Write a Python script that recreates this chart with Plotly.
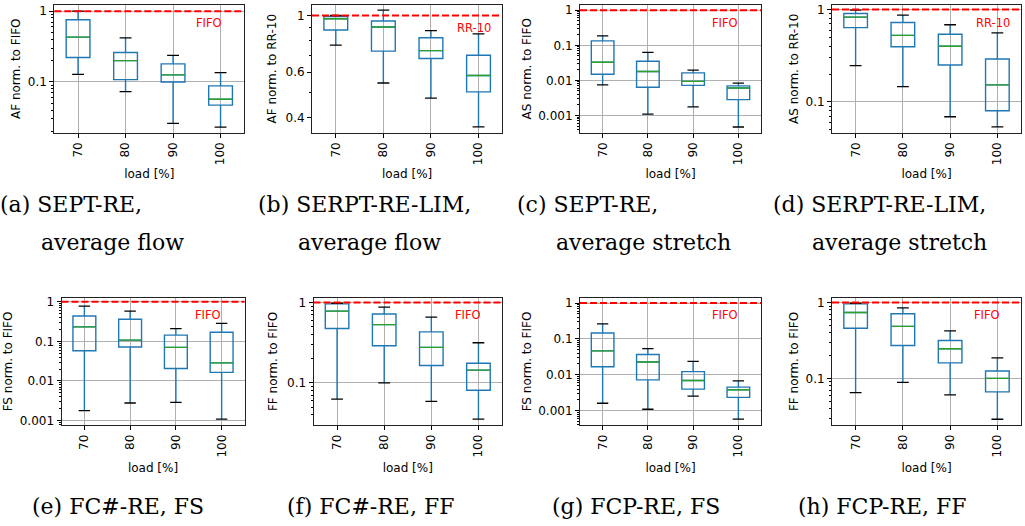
import plotly.graph_objects as go

loads = ["70", "80", "90", "100"]
positions = [1, 2, 3, 4]
ref_value = [1.0]

# (a) SEPT-RE, average flow
a_low = [0.128, 0.073, 0.026, 0.023]
a_q1 = [0.222, 0.108, 0.100, 0.047]
a_med = [0.43, 0.20, 0.126, 0.057]
a_q3 = [0.757, 0.261, 0.18, 0.088]
a_high = [1.0, 0.42, 0.237, 0.135]
# (b) SERPT-RE-LIM, average flow
b_low = [0.766, 0.545, 0.476, 0.367]
b_q1 = [0.878, 0.726, 0.679, 0.503]
b_med = [0.971, 0.902, 0.729, 0.583]
b_q3 = [0.99, 0.951, 0.818, 0.699]
b_high = [1.0, 1.049, 0.873, 0.848]
# (c) SEPT-RE, average stretch
c_low = [0.0075, 0.0011, 0.00177, 0.00047]
c_q1 = [0.015, 0.00635, 0.0072, 0.00284]
c_med = [0.0328, 0.0179, 0.0094, 0.0061]
c_q3 = [0.134, 0.035, 0.0164, 0.0070]
c_high = [0.185, 0.063, 0.0195, 0.0084]
# (d) SERPT-RE-LIM, average stretch
d_low = [0.247, 0.146, 0.069, 0.0535]
d_q1 = [0.637, 0.395, 0.251, 0.080]
d_med = [0.829, 0.526, 0.401, 0.153]
d_q3 = [0.906, 0.726, 0.54, 0.291]
d_high = [0.985, 0.871, 0.685, 0.558]
# (e) FC#-RE, FS
e_low = [0.00178, 0.00277, 0.00287, 0.00108]
e_q1 = [0.058, 0.072, 0.0207, 0.0165]
e_med = [0.233, 0.108, 0.0708, 0.0287]
e_q3 = [0.438, 0.362, 0.144, 0.171]
e_high = [0.78, 0.584, 0.211, 0.287]
# (f) FC#-RE, FF
f_low = [0.063, 0.1, 0.059, 0.0354]
f_q1 = [0.475, 0.29, 0.165, 0.081]
f_med = [0.782, 0.531, 0.277, 0.1445]
f_q3 = [0.963, 0.719, 0.432, 0.176]
f_high = [0.98, 0.877, 0.66, 0.316]
# (g) FCP-RE, FS
g_low = [0.0016, 0.00109, 0.00254, 0.00058]
g_q1 = [0.0168, 0.00718, 0.00397, 0.00234]
g_med = [0.0464, 0.0226, 0.0069, 0.0038]
g_q3 = [0.146, 0.0367, 0.0122, 0.00451]
g_high = [0.263, 0.0537, 0.0235, 0.00675]
# (h) FCP-RE, FF
h_low = [0.065, 0.0887, 0.0607, 0.0289]
h_q1 = [0.458, 0.272, 0.16, 0.0663]
h_med = [0.741, 0.486, 0.246, 0.1]
h_q3 = [0.961, 0.712, 0.316, 0.125]
h_high = [0.98, 0.852, 0.423, 0.186]

y_titles = ["AF norm. to FIFO", "AF norm. to RR-10", "AS norm. to FIFO", "AS norm. to RR-10",
            "FS norm. to FIFO", "FF norm. to FIFO", "FS norm. to FIFO", "FF norm. to FIFO"]
ref_labels = ["FIFO", "RR-10", "FIFO", "RR-10", "FIFO", "FIFO", "FIFO", "FIFO"]
y_tickvals = [[0.1, 1], [0.4, 0.6, 1], [0.001, 0.01, 0.1, 1], [0.1, 1],
              [0.001, 0.01, 0.1, 1], [0.1, 1], [0.001, 0.01, 0.1, 1], [0.1, 1]]
y_ticktext = [["0.1", "1"], ["0.4", "0.6", "1"], ["0.001", "0.01", "0.1", "1"], ["0.1", "1"],
              ["0.001", "0.01", "0.1", "1"], ["0.1", "1"], ["0.001", "0.01", "0.1", "1"], ["0.1", "1"]]
captions_l1 = ["(a) SEPT-RE,", "(b) SERPT-RE-LIM,", "(c) SEPT-RE,", "(d) SERPT-RE-LIM,"]
captions_l2 = ["average flow", "average flow", "average stretch", "average stretch"]
captions_row2 = ["(e) FC#-RE, FS", "(f) FC#-RE, FF", "(g) FCP-RE, FS", "(h) FCP-RE, FF"]

panels = [
    (a_low, a_q1, a_med, a_q3, a_high),
    (b_low, b_q1, b_med, b_q3, b_high),
    (c_low, c_q1, c_med, c_q3, c_high),
    (d_low, d_q1, d_med, d_q3, d_high),
    (e_low, e_q1, e_med, e_q3, e_high),
    (f_low, f_q1, f_med, f_q3, f_high),
    (g_low, g_q1, g_med, g_q3, g_high),
    (h_low, h_q1, h_med, h_q3, h_high),
]

# layout (pixels)
W, H = 1025, 526
x_px = [(54.3, 244.3), (312, 502.3), (580, 761), (832, 1021),
        (61.5, 244.5), (313.5, 502), (580, 761), (832, 1021)]
y_px = [(2, 131)] * 4 + [(298.5, 426.7)] * 4
y_ranges = [(-1.714, 0.087), (-0.457, 0.041), (-3.485, 0.149), (-1.332, 0.05),
            (-3.11, 0.095), (-1.521, 0.055), (-3.398, 0.14), (-1.613, 0.059)]
label_pos = [(0.816, 0.86), (0.85, 0.82), (0.8, 0.86), (0.85, 0.86),
             (0.80, 0.87), (0.82, 0.87), (0.80, 0.87), (0.82, 0.87)]
y_standoff = [4, 6, 4, 4, 4, 6, 4, 4]

BLUE = "#1f77b4"
GREEN = "#2ca02c"
GRID = "#b0b0b0"
TICKFONT = dict(family="DejaVu Sans", size=12, color="black")

fig = go.Figure()
shapes = []
annotations = []
layout = dict(width=W, height=H, margin=dict(l=0, r=0, t=0, b=0),
              paper_bgcolor="white", plot_bgcolor="white", showlegend=False)


def minor_vals(lo, hi):
    vals = []
    for e in range(int(lo) - 2, int(hi) + 2):
        for k in range(2, 10):
            vals.append(k * 10.0 ** e)
    return vals


for i, (low, q1, med, q3, high) in enumerate(panels):
    n = i + 1
    xa = "x" if n == 1 else f"x{n}"
    ya = "y" if n == 1 else f"y{n}"
    fig.add_trace(go.Box(
        x=positions, q1=q1, median=med, q3=q3, lowerfence=low, upperfence=high,
        width=0.5, whiskerwidth=0, boxpoints=False,
        line=dict(color=BLUE, width=1.4), fillcolor="rgba(0,0,0,0)",
        xaxis=xa, yaxis=ya, hoverinfo="skip"))
    mx, my, cx, cy = [], [], [], []
    for p, m, lo_, hi_ in zip(positions, med, low, high):
        mx += [p - 0.25, p + 0.25, None]
        my += [m, m, None]
        cx += [p - 0.125, p + 0.125, None, p - 0.125, p + 0.125, None]
        cy += [lo_, lo_, None, hi_, hi_, None]
    fig.add_trace(go.Scatter(x=mx, y=my, mode="lines", line=dict(color=GREEN, width=1.4),
                             xaxis=xa, yaxis=ya, hoverinfo="skip"))
    fig.add_trace(go.Scatter(x=cx, y=cy, mode="lines", line=dict(color="black", width=1.3),
                             xaxis=xa, yaxis=ya, hoverinfo="skip"))

    x0, x1 = x_px[i]
    yt, yb = y_px[i]
    key_x = "xaxis" if n == 1 else f"xaxis{n}"
    key_y = "yaxis" if n == 1 else f"yaxis{n}"
    layout[key_x] = dict(
        domain=[x0 / W, x1 / W], anchor=ya, range=[0.5, 4.5],
        tickmode="array", tickvals=positions, ticktext=loads, tickangle=-90,
        tickfont=TICKFONT, ticks="outside", ticklen=4, tickcolor="black",
        showgrid=True, gridcolor=GRID, gridwidth=1,
        showline=True, linecolor="#222", linewidth=1, mirror=True, zeroline=False,
        title=dict(text="load [%]", font=dict(family="DejaVu Sans", size=12, color="black"),
                   standoff=5 if i < 4 else 7),
    )
    lo, hi = y_ranges[i]
    layout[key_y] = dict(
        domain=[1 - yb / H, 1 - yt / H], anchor=xa, type="log", range=[lo, hi],
        tickmode="array", tickvals=y_tickvals[i], ticktext=y_ticktext[i],
        tickfont=TICKFONT, ticks="outside", ticklen=4, tickcolor="black",
        showgrid=(i != 1), gridcolor=GRID, gridwidth=1,
        minor=dict(tickmode="array", tickvals=minor_vals(lo, hi), ticks="outside",
                   ticklen=2, tickcolor="black", showgrid=False),
        showline=True, linecolor="#222", linewidth=1, mirror=True, zeroline=False,
        title=dict(text=y_titles[i], font=dict(family="DejaVu Sans", size=12, color="black"),
                   standoff=y_standoff[i]),
    )
    shapes.append(dict(type="line", xref=f"{xa} domain", yref=ya, x0=0, x1=1,
                       y0=ref_value[0], y1=ref_value[0], layer="above",
                       line=dict(color="red", width=2, dash="7px,3px")))
    lx, ly = label_pos[i]
    annotations.append(dict(text=ref_labels[i], xref=f"{xa} domain", yref=f"{ya} domain",
                            x=lx, y=ly, showarrow=False, xanchor="center", yanchor="middle",
                            font=dict(family="DejaVu Sans", size=11.5, color="red")))

CAPFONT = dict(family="DejaVu Serif", size=22, color="black")
cap1_x = [-2, 256, 515, 771]
cap2_x = [39, 296, 554, 810]
for j in range(4):
    annotations.append(dict(text=captions_l1[j], xref="paper", yref="paper",
                            x=cap1_x[j] / W, y=1 - 204 / H, showarrow=False,
                            xanchor="left", yanchor="middle", font=CAPFONT))
    annotations.append(dict(text=captions_l2[j], xref="paper", yref="paper",
                            x=cap2_x[j] / W, y=1 - 242 / H, showarrow=False,
                            xanchor="left", yanchor="middle", font=CAPFONT))
cap3_x = [30, 285, 550, 796]
for j in range(4):
    annotations.append(dict(text=captions_row2[j], xref="paper", yref="paper",
                            x=cap3_x[j] / W, y=1 - 509 / H, showarrow=False,
                            xanchor="left", yanchor="middle", font=CAPFONT))

layout["shapes"] = shapes
layout["annotations"] = annotations
fig.update_layout(**layout)
fig.write_html("out.html", config={"displayModeBar": False, "staticPlot": True},
               post_script="document.body.style.margin='0';document.body.style.padding='0';"
                           "document.body.style.overflow='hidden';")
